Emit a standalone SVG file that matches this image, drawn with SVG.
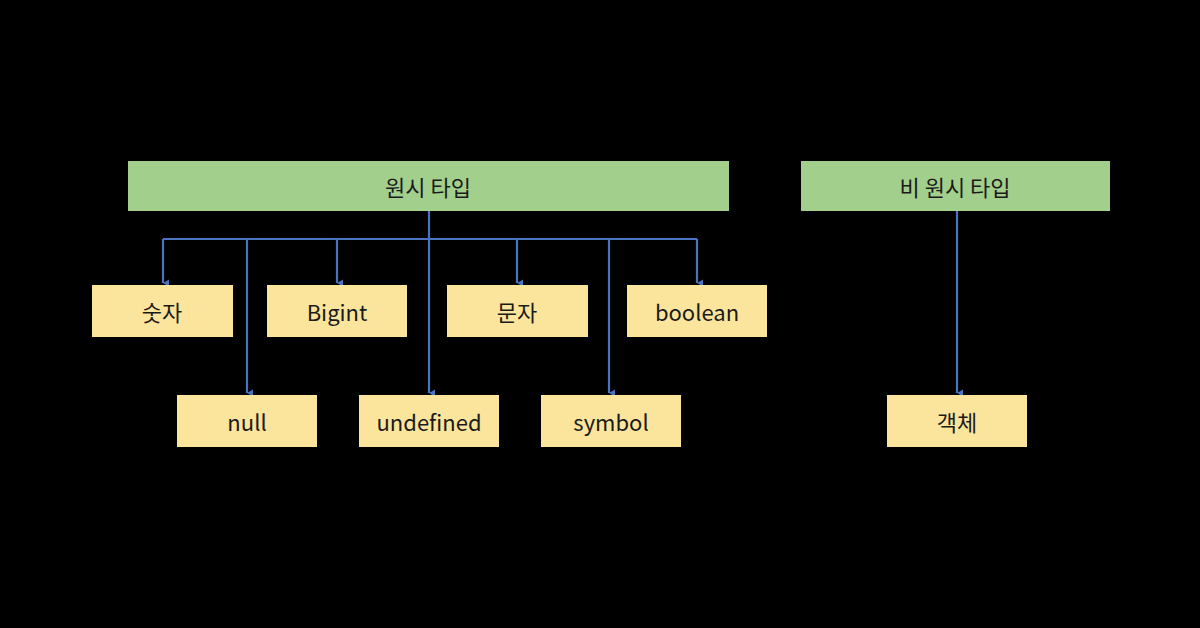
<svg xmlns="http://www.w3.org/2000/svg" width="1200" height="628" viewBox="0 0 1200 628">
<style>
.g{fill:#a3cf8c}.y{fill:#fbe49b}
text{font-family:"Noto Sans CJK KR","Open Sans",sans-serif;font-size:22px;fill:#1a1a1a;text-anchor:middle;dominant-baseline:central}
.c{stroke:#4a74c0;stroke-width:2.2;fill:none}
</style>
<defs><marker id="a" markerWidth="8" markerHeight="8" refX="4" refY="6" orient="auto-start-reverse" markerUnits="userSpaceOnUse" viewBox="0 0 8 8"><path d="M0,0 L4,7 L8,0 Z" fill="#4a74c0" transform="translate(0,-1)"/></marker></defs>
<rect width="1200" height="628" fill="#000"/>
<g id="connectors" class="c">
<path d="M429,211 V239 M163,239 H697"/>
<path d="M163,239 V283" marker-end="url(#a)"/>
<path d="M337,239 V283" marker-end="url(#a)"/>
<path d="M517,239 V283" marker-end="url(#a)"/>
<path d="M697,239 V283" marker-end="url(#a)"/>
<path d="M247,239 V393" marker-end="url(#a)"/>
<path d="M429,239 V393" marker-end="url(#a)"/>
<path d="M609,239 V393" marker-end="url(#a)"/>
<path d="M957,211 V393" marker-end="url(#a)"/>
</g>
<g id="prim"><rect class="g" x="128" y="161" width="601" height="50"/><text x="428" y="186">원시 타입</text></g>
<g id="nonprim"><rect class="g" x="801" y="161" width="309" height="50"/><text x="955" y="186">비 원시 타입</text></g>
<g id="num"><rect class="y" x="92" y="285" width="141" height="52"/><text x="162" y="311">숫자</text></g>
<g id="bigint"><rect class="y" x="267" y="285" width="140" height="52"/><text x="337" y="311">Bigint</text></g>
<g id="str"><rect class="y" x="447" y="285" width="141" height="52"/><text x="517" y="311">문자</text></g>
<g id="bool"><rect class="y" x="627" y="285" width="140" height="52"/><text x="697" y="311">boolean</text></g>
<g id="null"><rect class="y" x="177" y="395" width="140" height="52"/><text x="247" y="421">null</text></g>
<g id="undef"><rect class="y" x="359" y="395" width="140" height="52"/><text x="429" y="421">undefined</text></g>
<g id="sym"><rect class="y" x="541" y="395" width="140" height="52"/><text x="611" y="421">symbol</text></g>
<g id="obj"><rect class="y" x="887" y="395" width="140" height="52"/><text x="957" y="421">객체</text></g>
</svg>
